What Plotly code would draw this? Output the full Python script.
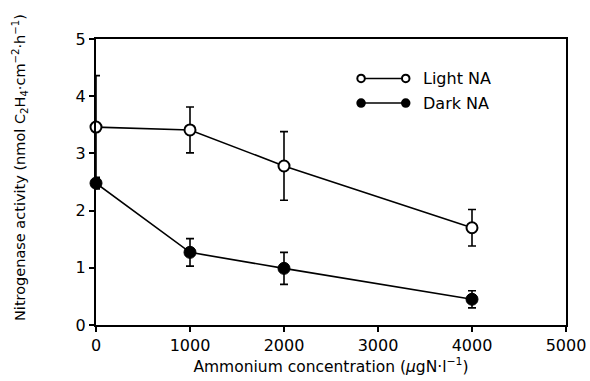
import plotly.graph_objects as go

# Ammonium concentration (µgN·l⁻¹)
ammonium = [0, 1000, 2000, 4000]

# Nitrogenase activity, light incubation
light_na = [3.46, 3.41, 2.78, 1.70]
light_err = [0.90, 0.40, 0.60, 0.32]

# Nitrogenase activity, dark incubation
dark_na = [2.48, 1.27, 0.99, 0.45]
dark_err = [0.10, 0.24, 0.28, 0.15]

x_ticks = [0, 1000, 2000, 3000, 4000, 5000]
y_ticks = [0, 1, 2, 3, 4, 5]

FONT = "DejaVu Sans"
BLACK = "black"

fig = go.Figure()

fig.add_trace(go.Scatter(
    x=ammonium, y=light_na, mode="lines+markers", name="Light NA",
    line=dict(color=BLACK, width=1.6),
    marker=dict(symbol="circle", size=11, color="white", line=dict(color=BLACK, width=2)),
    error_y=dict(type="data", array=light_err, visible=True, color=BLACK, thickness=1.6, width=4),
    cliponaxis=False, showlegend=False,
))

fig.add_trace(go.Scatter(
    x=ammonium, y=dark_na, mode="lines+markers", name="Dark NA",
    line=dict(color=BLACK, width=1.6),
    marker=dict(symbol="circle", size=12, color=BLACK, line=dict(color=BLACK, width=1)),
    error_y=dict(type="data", array=dark_err, visible=True, color=BLACK, thickness=1.6, width=4),
    cliponaxis=False, showlegend=False,
))

# Hand-drawn style legend: marker — line — marker, then label
legend_rows = [("Light NA", "white", 0.862), ("Dark NA", BLACK, 0.776)]
shapes = []
annotations = []
x_a, x_b = 0.564, 0.659
for label, fill, yy in legend_rows:
    shapes.append(dict(type="line", xref="paper", yref="paper",
                       x0=x_a, x1=x_b, y0=yy, y1=yy, line=dict(color=BLACK, width=1.6)))
    for xc in (x_a, x_b):
        r = 0.008
        shapes.append(dict(type="circle", xref="paper", yref="paper",
                           x0=xc - r, x1=xc + r, y0=yy - r * 470 / 286, y1=yy + r * 470 / 286,
                           fillcolor=fill, line=dict(color=BLACK, width=2)))
    annotations.append(dict(xref="paper", yref="paper", x=0.692, y=yy, text=label,
                            showarrow=False, xanchor="left", yanchor="middle",
                            font=dict(family=FONT, size=16, color=BLACK)))

# Y-axis title, placed as a rotated annotation
annotations.append(dict(
    xref="paper", yref="paper", x=-0.162, y=0.552, textangle=-90,
    text="Nitrogenase activity (nmol C<sub>2</sub>H<sub>4</sub>·cm<sup>−2</sup>·h<sup>−1</sup>)",
    showarrow=False, xanchor="center", yanchor="middle",
    font=dict(family=FONT, size=14.5, color=BLACK),
))

axis_common = dict(
    showline=True, linecolor=BLACK, linewidth=2, mirror=True,
    ticks="outside", ticklen=5, tickwidth=1.5, tickcolor=BLACK,
    showgrid=False, zeroline=False, automargin=False,
    tickfont=dict(family=FONT, size=16, color=BLACK),
)

fig.update_layout(
    width=590, height=381,
    margin=dict(l=96, r=24, t=39, b=56),
    paper_bgcolor="white", plot_bgcolor="white",
    xaxis=dict(range=[0, 5000], tickvals=x_ticks,
               title=dict(text="Ammonium concentration (<i>µ</i>gN·l<sup>−1</sup>)",
                          font=dict(family=FONT, size=15.5, color=BLACK), standoff=2),
               **axis_common),
    yaxis=dict(range=[0, 5], tickvals=y_ticks, **axis_common),
    shapes=shapes,
    annotations=annotations,
)

fig.write_html("out.html")
